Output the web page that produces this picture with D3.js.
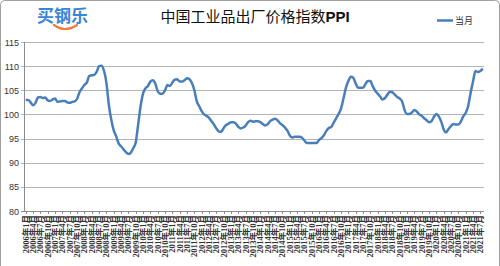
<!DOCTYPE html>
<html><head><meta charset="utf-8">
<script src="https://cdn.jsdelivr.net/npm/d3@7"></script>
<style>html,body{margin:0;padding:0;background:#fff;}svg{display:block;}</style>
</head><body>
<svg id="c" width="500" height="266"></svg>
<script>
const title = "中国工业品出厂价格指数";
const titleSuffix = "PPI";
const seriesName = "当月";
const startYear = 2006;
// PPI (same month of previous year = 100), monthly from 2006-01
const values = [
103.0,103.0,102.5,101.9,102.4,103.5,103.6,103.4,103.5,102.9,102.8,103.1,
103.3,102.6,102.7,102.8,102.8,102.5,102.4,102.6,102.7,103.2,104.6,105.4,
106.1,106.6,108.0,108.1,108.2,108.8,110.0,110.1,109.1,106.6,102.0,98.9,
96.7,95.5,94.0,93.4,92.8,92.2,91.8,92.1,93.0,94.2,97.9,101.7,
104.3,105.4,105.9,106.8,107.1,106.4,104.8,104.3,104.3,105.0,106.1,105.9,
106.6,107.2,107.3,106.8,106.8,107.1,107.5,107.3,106.5,105.0,102.7,101.7,
100.7,100.0,99.7,99.3,98.6,97.9,97.1,96.5,96.4,97.2,97.8,98.1,
98.4,98.4,98.1,97.4,97.1,97.3,97.7,98.4,98.7,98.5,98.6,98.6,
98.4,98.0,97.7,98.0,98.6,98.9,99.1,98.8,98.2,97.8,97.3,96.7,
95.7,95.2,95.4,95.4,95.4,95.2,94.6,94.1,94.1,94.1,94.1,94.1,
94.7,95.1,95.7,96.6,97.2,97.4,98.3,99.2,100.1,101.2,103.3,105.5,
106.9,107.8,107.6,106.4,105.5,105.5,105.5,106.3,106.9,106.9,105.8,104.9,
104.3,103.7,103.1,103.4,104.1,104.7,104.6,104.1,103.6,103.3,102.7,100.9,
100.1,100.1,100.4,100.9,100.6,100.0,99.7,99.2,98.8,98.4,98.6,99.5,
100.1,99.6,98.5,96.9,96.3,97.0,97.6,98.0,97.9,97.9,98.5,99.6,
100.3,101.7,104.4,106.8,109.0,108.8,109.0,109.5
];
const yTicks = [80,85,90,95,100,105,110,115];
const categories = values.map((v,i)=>{
  const y = startYear + Math.floor(i/12), m = i%12+1;
  return y + "年" + m + "月";
});
const labelMonths = [1,4,7,10];

const svg = d3.select("#c");
svg.append("rect").attr("x",0.5).attr("y",0.5).attr("width",499).attr("height",270)
  .attr("rx",4).attr("fill","#fff").attr("stroke","#a0a0a0");

const x = d3.scalePoint().domain(categories).range([24.5,484]).padding(0.5);
const y = d3.scaleLinear().domain([80,115]).range([211,42]);

// grid
svg.append("g").selectAll("line").data(yTicks).join("line")
  .attr("x1",21).attr("x2",484)
  .attr("y1",d=>Math.round(y(d))+0.5).attr("y2",d=>Math.round(y(d))+0.5)
  .attr("stroke",d=>d===80?"#8c8c8c":"#b4b4b4").attr("stroke-width",1);
// y axis line
svg.append("line").attr("x1",24.5).attr("x2",24.5).attr("y1",42).attr("y2",211.5)
  .attr("stroke","#8c8c8c");
// y labels
svg.append("g").selectAll("text").data(yTicks).join("text")
  .attr("x",19).attr("y",d=>y(d)+3.5).attr("text-anchor","end")
  .attr("font-family","Liberation Sans, Arial, sans-serif").attr("font-size",9)
  .attr("fill","#333").text(d=>d);

// x ticks and labels
const labeled = categories.filter((c,i)=>labelMonths.includes(i%12+1));
const xa = svg.append("g");
xa.selectAll("line").data(labeled).join("line")
  .attr("x1",d=>Math.round(x(d))+0.5).attr("x2",d=>Math.round(x(d))+0.5)
  .attr("y1",211).attr("y2",214).attr("stroke","#8c8c8c");
xa.selectAll("text").data(labeled).join("text")
  .attr("transform",d=>`translate(${x(d)+3},215) rotate(-90)`)
  .attr("text-anchor","end")
  .attr("font-family","Liberation Serif, Noto Sans CJK SC, serif").attr("font-size",8.5)
  .attr("font-weight","bold")
  .attr("fill","#333").text(d=>d);

// line
const line = d3.line().x((d,i)=>x(categories[i])).y(d=>y(d)).curve(d3.curveMonotoneX);
svg.append("path").datum(values).attr("d",line)
  .attr("fill","none").attr("stroke","#4a7ebb").attr("stroke-width",2.5)
  .attr("stroke-linejoin","round");

// title
const t = svg.append("text").attr("x",255).attr("y",22).attr("text-anchor","middle")
  .attr("font-family","Noto Sans CJK SC, sans-serif").attr("font-size",15).attr("fill","#111");
t.append("tspan").text(title);
t.append("tspan").attr("font-weight","bold").attr("font-family","Liberation Sans, Arial, sans-serif").text(titleSuffix);

// legend
svg.append("line").attr("x1",437).attr("x2",453).attr("y1",20.5).attr("y2",20.5)
  .attr("stroke","#4a7ebb").attr("stroke-width",2.5);
svg.append("text").attr("x",455).attr("y",24).attr("font-family","Noto Sans CJK SC, sans-serif")
  .attr("font-size",9).attr("fill","#333").text(seriesName);

// logo
svg.append("text").attr("x",37).attr("y",22).attr("font-family","Noto Sans CJK SC, sans-serif")
  .attr("font-size",17).attr("font-weight","bold").attr("fill","#3a86d6").text("买钢乐");
svg.append("path").attr("d","M54,25 Q65,33 77,25").attr("fill","none")
  .attr("stroke","#f07a3a").attr("stroke-width",2.2).attr("stroke-linecap","round");
</script>
</body></html>
